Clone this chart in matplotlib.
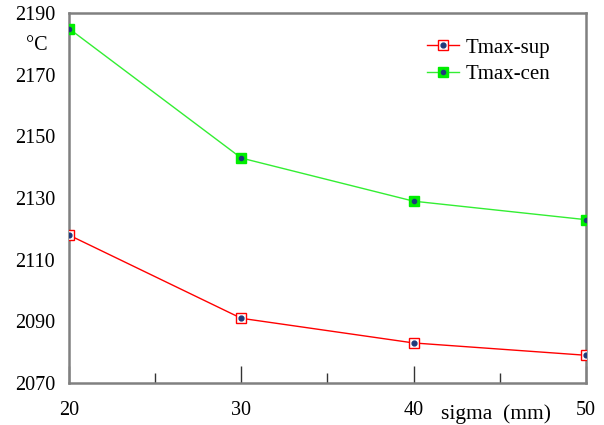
import matplotlib.pyplot as plt
from matplotlib.ticker import MultipleLocator
from matplotlib.legend_handler import HandlerTuple

sigma = [20, 30, 40, 50]
tmax_sup = [2118, 2091, 2083, 2079]
tmax_cen = [2185, 2143, 2129, 2123]
y_ticks = [2070, 2090, 2110, 2130, 2150, 2170, 2190]

plt.rcParams['font.family'] = ['Liberation Serif', 'DejaVu Serif']

fig = plt.figure(figsize=(6.04, 4.25), dpi=100)
ax = fig.add_axes([0.1142, 0.0988, 0.8558, 0.8702])

dot = '#1f3a7a'
l1, = ax.plot(sigma, tmax_sup, color='red', lw=1, marker='s', ms=7.5,
              mfc='white', mec='red', mew=1, zorder=3)
d1, = ax.plot(sigma, tmax_sup, ls='none', marker='o', ms=3.5, color=dot, zorder=4)
l2, = ax.plot(sigma, tmax_cen, color='#33ee33', lw=1, marker='s', ms=7.5,
              mfc='#00ee00', mec='#00ee00', zorder=3)
d2, = ax.plot(sigma, tmax_cen, ls='none', marker='o', ms=3, color=dot, zorder=4)

ax.set_xlim(20, 50)
ax.set_ylim(2070, 2190)
ax.set_yticks(y_ticks)
ax.set_xticks(sigma)
ax.xaxis.set_minor_locator(MultipleLocator(5))
ax.tick_params(axis='x', which='major', direction='in', length=12, width=1,
               color='#333333', labelsize=14.5, pad=13)
ax.tick_params(axis='x', which='minor', direction='in', length=7, width=1,
               color='#333333')
ax.tick_params(axis='y', length=0, labelsize=14.5, pad=10)
for s in ax.spines.values():
    s.set_color('#808080')
    s.set_linewidth(1.8)

ax.text(-0.062, 0.913, '°C', transform=ax.transAxes, fontsize=14.5,
        ha='center', va='center')
ax.text(0.826, -0.083, 'sigma  (mm)', transform=ax.transAxes, fontsize=15.5,
        ha='center', va='center')

# legend: square marker with the dot drawn on top
leg = ax.legend([(l1, d1), (l2, d2)], ['Tmax-sup', 'Tmax-cen'],
                handler_map={tuple: HandlerTuple(ndivide=1, pad=0)},
                loc='upper left', bbox_to_anchor=(0.673, 0.961), frameon=False,
                borderpad=0, fontsize=15, handlelength=1.5, handletextpad=0.35,
                labelspacing=0.33)

fig.savefig('out.png', dpi=100)
